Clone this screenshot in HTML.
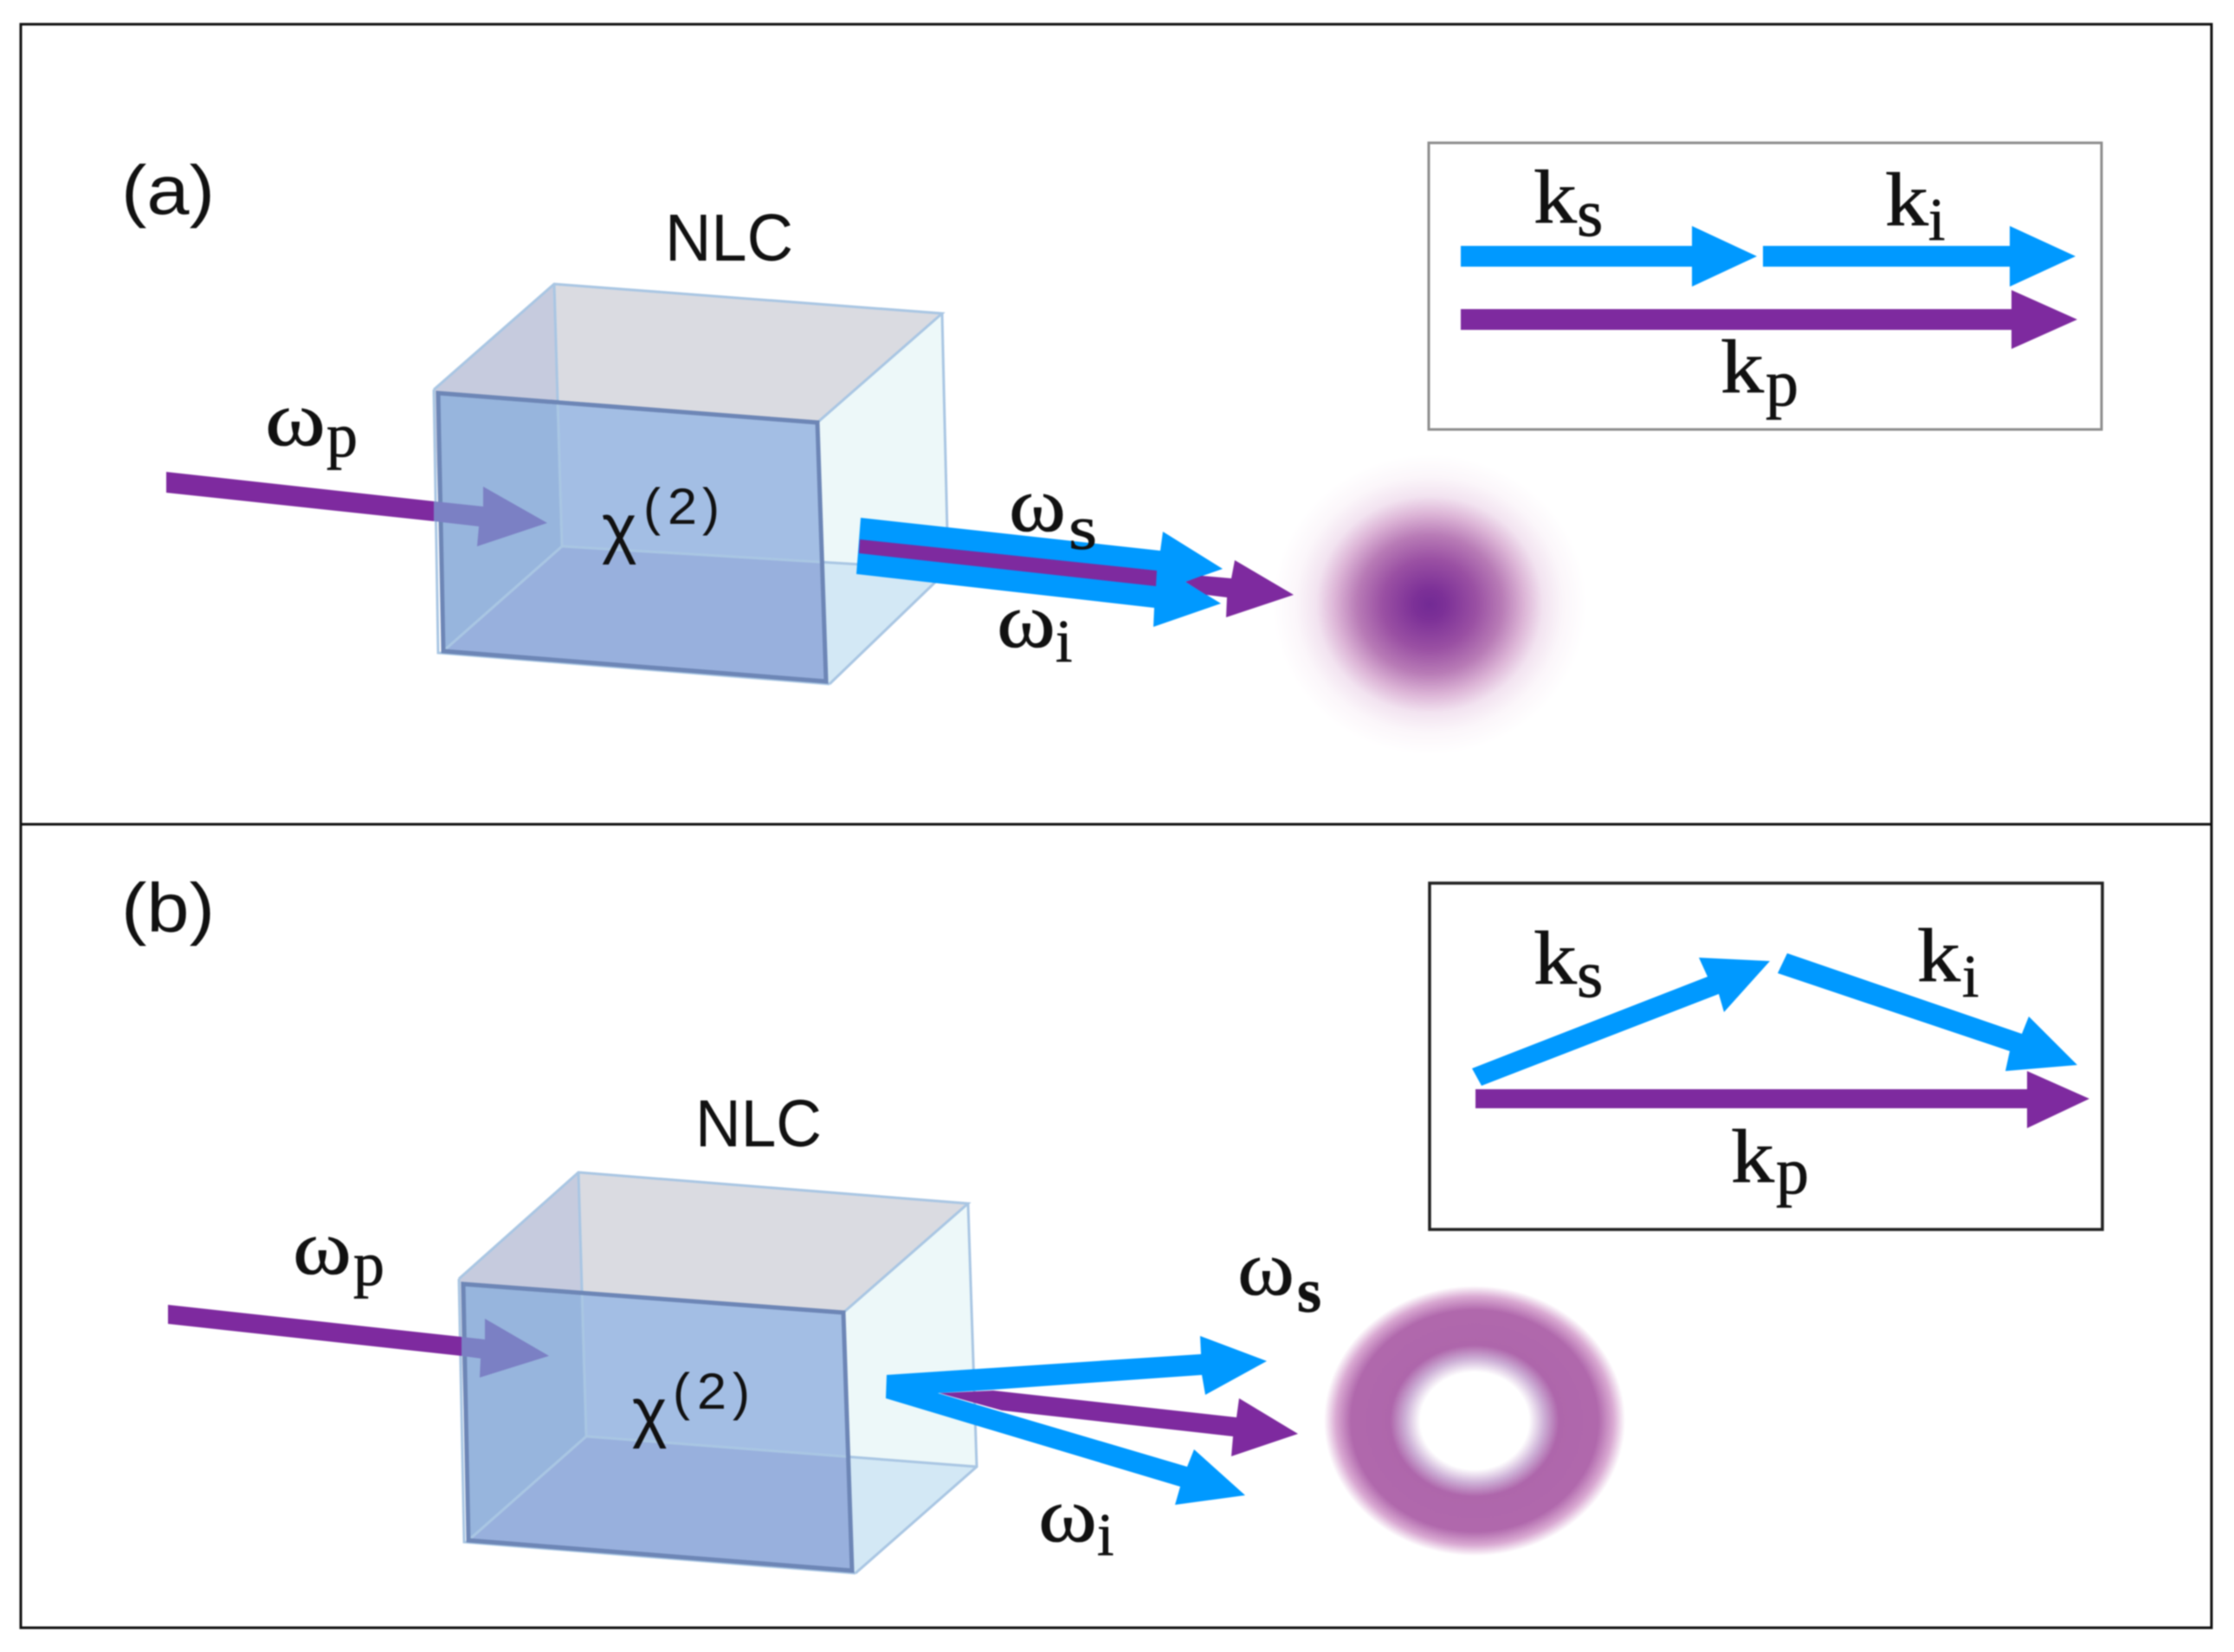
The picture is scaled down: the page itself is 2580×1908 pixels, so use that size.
<!DOCTYPE html>
<html><head><meta charset="utf-8"><style>
html,body{margin:0;padding:0;background:#fff;width:2580px;height:1908px;overflow:hidden}
svg{display:block;filter:blur(0.9px)}
.l{font-family:"Liberation Sans",sans-serif;fill:#111}
.m{font-family:"Liberation Serif",serif;fill:#111;stroke:#111;stroke-width:.7}
.w{font-family:"Liberation Serif",serif;fill:#111;stroke:#111;stroke-width:.6;font-size:90px}
.k{font-family:"Liberation Serif",serif;fill:#111;stroke:#111;stroke-width:.7;font-size:88px}
.b{fill:#0099ff}.p{fill:#7e2a9f}
</style></head><body>
<svg width="2580" height="1908" viewBox="0 0 2580 1908" xmlns="http://www.w3.org/2000/svg">
<defs>
<radialGradient id="spot"><stop offset="0" stop-color="#722a94"/><stop offset=".1" stop-color="#7c3097"/><stop offset=".3" stop-color="#9a50a3"/><stop offset=".46" stop-color="#b87bb6"/><stop offset=".6" stop-color="#dcb4d6"/><stop offset=".72" stop-color="#f2e3f0"/><stop offset=".85" stop-color="#fbf6fa"/><stop offset="1" stop-color="#fff"/></radialGradient>
<radialGradient id="ring"><stop offset="0" stop-color="#fff"/><stop offset=".36" stop-color="#fff"/><stop offset=".46" stop-color="#cdb0d6"/><stop offset=".56" stop-color="#ae66ab"/><stop offset=".82" stop-color="#b068ac"/><stop offset=".92" stop-color="#d9a9d2"/><stop offset="1" stop-color="#fff"/></radialGradient>
</defs>
<rect width="2580" height="1908" fill="#fff"/>
<rect x="24" y="28" width="2530" height="1852" fill="none" stroke="#111" stroke-width="3"/>
<line x1="24" y1="952" x2="2554" y2="952" stroke="#111" stroke-width="3"/>

<!-- panel a -->
<text class="l" x="140" y="247" font-size="80" textLength="108" lengthAdjust="spacingAndGlyphs">(a)</text>
<text class="l" x="768" y="301" font-size="77" textLength="148" lengthAdjust="spacingAndGlyphs">NLC</text>
<g>
<polygon points="640,328 1088,362 944,488 506,450" fill="#dadbe1"/>
<polygon points="501,450 640,328 649,631 512,752" fill="#c6cbde"/>
<polygon points="1088,362 1095,658 954,787 944,488" fill="#edf8f9"/>
<polygon points="649,631 1095,658 958,790 512,752" fill="#d3e8f5"/>
<polygon points="506,454 944,488 954,787 512,752" fill="#a3bee4"/>
<polygon points="506,454 644,465 649,631 512,752" fill="#97b5dd"/>
<polygon points="649,631 950,649 954,787 512,752" fill="#98b0dd"/>
<g fill="none" stroke="#a9c6e3" stroke-width="3">
<polyline points="501,450 640,328 1088,362 944,488"/>
<polyline points="1088,362 1095,658 958,790"/>
<polyline points="640,328 649,631 1095,658"/>
<polyline points="649,631 512,752"/>
<polyline points="501,450 506,754 958,790"/>
</g>
<polygon points="506,454 944,488 954,787 512,752" fill="none" stroke="#6d86b6" stroke-width="5"/>
</g>
<polygon class="p" points="192,545 501,579 501,602 192,569"/>
<polygon fill="#7b80c4" points="501,579 558,585 558,562 632,604 551,631 553,608 501,602"/>
<text class="w" x="306" y="514" textLength="70" lengthAdjust="spacingAndGlyphs">ω</text><text class="m" x="377" y="527" font-size="72">p</text>
<text class="l" x="695" y="636" font-size="77">χ</text>
<text class="l" x="743" y="606" font-size="60">(</text><text class="l" x="771" y="605" font-size="58" textLength="34" lengthAdjust="spacingAndGlyphs">2</text><text class="l" x="811" y="606" font-size="60">)</text>

<ellipse cx="1651" cy="698" rx="182" ry="174" fill="url(#spot)"/>
<polygon class="b" points="994,598 1340,636 1343,614 1412,657 1369,672 1410,697 1332,724 1333,702 989,663"/>
<polygon class="p" points="993,623 1336,659 1335,677 992,639"/>
<polygon class="p" points="1369,672 1388,665 1422,668 1426,647 1494,687 1416,713 1417,690 1393,687"/>
<text class="w" x="1165" y="613" textLength="66" lengthAdjust="spacingAndGlyphs">ω</text><text class="m" x="1234" y="634" font-size="72" textLength="33" lengthAdjust="spacingAndGlyphs">s</text>
<text class="w" x="1151" y="747" textLength="68" lengthAdjust="spacingAndGlyphs">ω</text><text class="m" x="1219" y="764" font-size="70">i</text>

<rect x="1650" y="165" width="777" height="331" fill="#fff" stroke="#8e8e8e" stroke-width="3"/>
<polygon class="b" points="1687,284 1954,284 1954,261 2029,296 1954,331 1954,308 1687,308"/>
<polygon class="b" points="2036,284 2321,284 2321,261 2397,296 2321,331 2321,308 2036,308"/>
<polygon class="p" points="1687,357 2323,357 2323,335 2399,369 2323,403 2323,381 1687,381"/>
<text class="k" x="1771" y="257" textLength="50" lengthAdjust="spacingAndGlyphs">k</text><text class="m" x="1821" y="272" font-size="78">s</text>
<text class="k" x="2177" y="260" textLength="50" lengthAdjust="spacingAndGlyphs">k</text><text class="m" x="2227" y="277" font-size="70">i</text>
<text class="k" x="1987" y="453" textLength="50" lengthAdjust="spacingAndGlyphs">k</text><text class="m" x="2039" y="468" font-size="76">p</text>

<!-- panel b -->
<text class="l" x="140" y="1076" font-size="80" textLength="108" lengthAdjust="spacingAndGlyphs">(b)</text>
<text class="l" x="803" y="1324" font-size="77" textLength="146" lengthAdjust="spacingAndGlyphs">NLC</text>
<g>
<polygon points="668,1354 1118,1390 974,1516 535,1482" fill="#dadbe1"/>
<polygon points="530,1477 668,1354 677,1659 541,1779" fill="#c6cbde"/>
<polygon points="1118,1390 1128,1694 984,1814 974,1516" fill="#edf8f9"/>
<polygon points="677,1659 1128,1694 988,1817 541,1779" fill="#d3e8f5"/>
<polygon points="535,1483 974,1516 984,1814 541,1779" fill="#a3bee4"/>
<polygon points="535,1483 673,1493 677,1659 541,1779" fill="#97b5dd"/>
<polygon points="677,1659 980,1682 984,1814 541,1779" fill="#98b0dd"/>
<g fill="none" stroke="#a9c6e3" stroke-width="3">
<polyline points="530,1477 668,1354 1118,1390 974,1516"/>
<polyline points="1118,1390 1128,1694 988,1817"/>
<polyline points="668,1354 677,1659 1128,1694"/>
<polyline points="677,1659 541,1779"/>
<polyline points="530,1477 536,1781 988,1817"/>
</g>
<polygon points="535,1483 974,1516 984,1814 541,1779" fill="none" stroke="#6d86b6" stroke-width="5"/>
</g>
<polygon class="p" points="194,1507 533,1544 533,1566 194,1529"/>
<polygon fill="#7b80c4" points="533,1544 560,1547 560,1523 634,1566 554,1591 555,1569 533,1566"/>
<text class="w" x="338" y="1471" textLength="68" lengthAdjust="spacingAndGlyphs">ω</text><text class="m" x="408" y="1484" font-size="72">p</text>
<text class="l" x="730" y="1657" font-size="77">χ</text>
<text class="l" x="777" y="1628" font-size="60">(</text><text class="l" x="805" y="1627" font-size="58" textLength="34" lengthAdjust="spacingAndGlyphs">2</text><text class="l" x="846" y="1628" font-size="60">)</text>

<polygon class="b" points="1024,1588 1387,1564 1386,1543 1463,1572 1392,1611 1388,1588 1147,1605 1083,1609 1371,1694 1379,1674 1438,1727 1357,1738 1363,1717 1023,1615"/>
<polygon class="p" points="1085,1609 1147,1606 1428,1637 1431,1615 1499,1656 1422,1682 1424,1659 1157,1629"/>
<text class="w" x="1429" y="1495" textLength="66" lengthAdjust="spacingAndGlyphs">ω</text><text class="m" x="1498" y="1515" font-size="72" font-weight="bold">s</text>
<text class="w" x="1199" y="1780" textLength="68" lengthAdjust="spacingAndGlyphs">ω</text><text class="m" x="1267" y="1796" font-size="70">i</text>
<ellipse cx="1703" cy="1641" rx="174" ry="156" fill="url(#ring)"/>

<rect x="1651" y="1020" width="777" height="400" fill="#fff" stroke="#222" stroke-width="3.5"/>
<polygon class="p" points="1704,1258 2341,1258 2341,1237 2413,1269 2341,1303 2341,1280 1704,1280"/>
<polygon class="b" points="1700,1234 1972,1128 1962,1106 2044,1110 1991,1169 1985,1148 1711,1254"/>
<polygon class="b" points="2064,1101 2335,1194 2343,1174 2399,1230 2316,1237 2321,1214 2053,1124"/>
<text class="k" x="1771" y="1136" textLength="50" lengthAdjust="spacingAndGlyphs">k</text><text class="m" x="1821" y="1151" font-size="78">s</text>
<text class="k" x="2214" y="1133" textLength="50" lengthAdjust="spacingAndGlyphs">k</text><text class="m" x="2266" y="1151" font-size="70">i</text>
<text class="k" x="1999" y="1365" textLength="50" lengthAdjust="spacingAndGlyphs">k</text><text class="m" x="2051" y="1378" font-size="76">p</text>
</svg>
</body></html>
